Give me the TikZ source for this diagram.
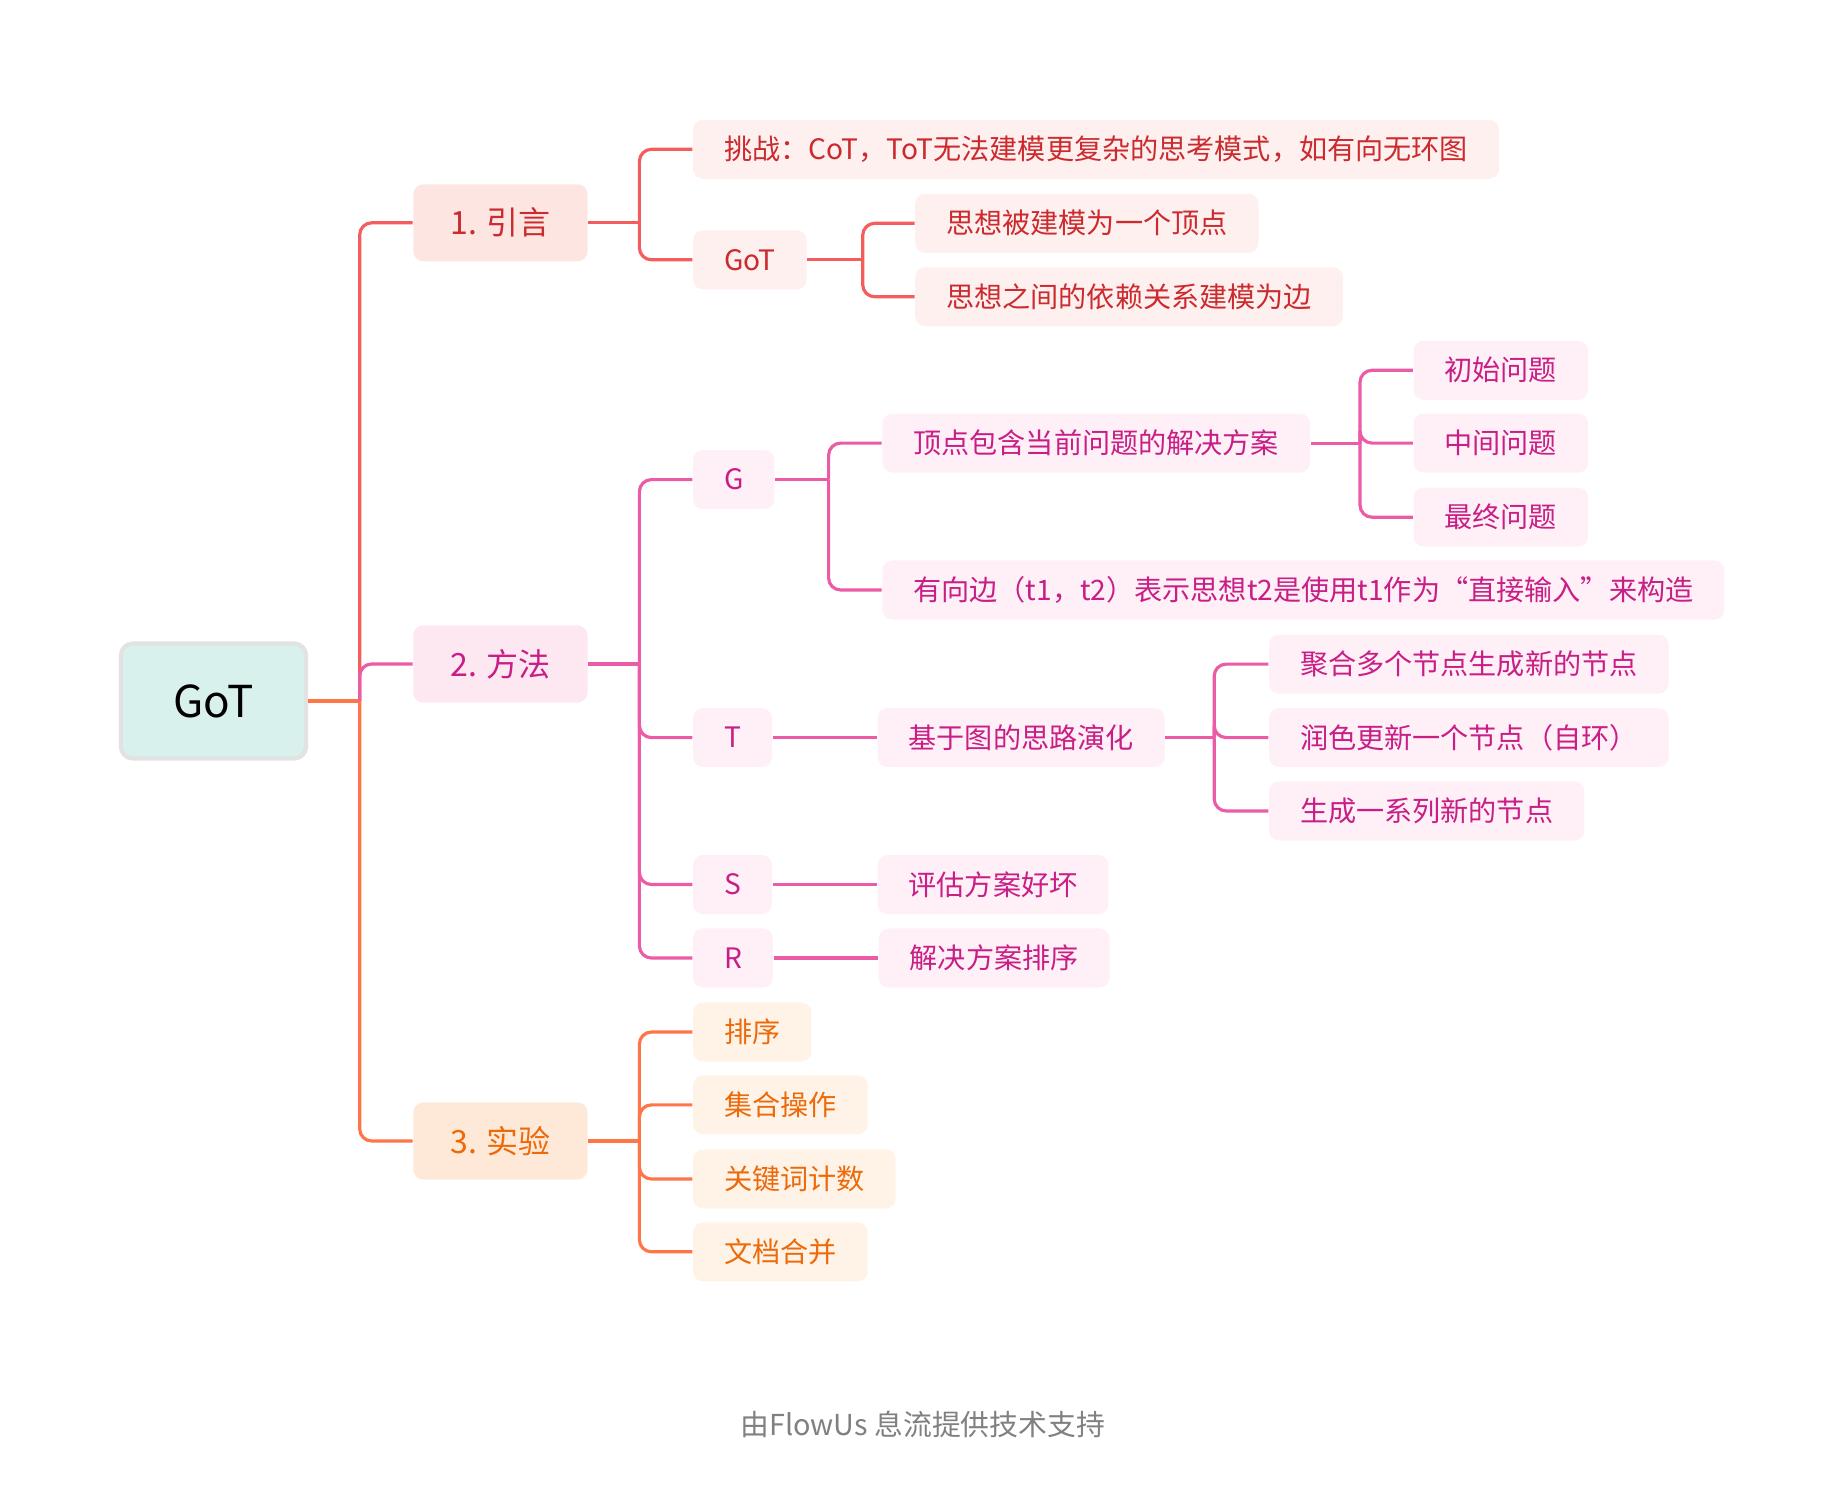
\documentclass[tikz,border=0pt]{standalone}
\usepackage{fontspec}
\setmainfont{Noto Sans CJK SC}

\definecolor{redline}{HTML}{F35D5D}
\definecolor{redtext}{HTML}{CB2A2F}
\definecolor{redfillA}{HTML}{FDE5E2}
\definecolor{redfillB}{HTML}{FEF0EE}
\definecolor{pinkline}{HTML}{EB5BA6}
\definecolor{pinktext}{HTML}{C81E86}
\definecolor{pinkfillA}{HTML}{FDE7F1}
\definecolor{pinkfillB}{HTML}{FEF0F6}
\definecolor{orangeline}{HTML}{FF7548}
\definecolor{orangetext}{HTML}{EC6A0A}
\definecolor{orangefillA}{HTML}{FEE9D9}
\definecolor{orangefillB}{HTML}{FFF3E8}
\definecolor{rootfill}{HTML}{D9F1EC}
\definecolor{rootborder}{HTML}{E2E2E2}

\tikzset{
    box/.style={anchor=west, rounded corners=0.1cm, inner xsep=0.31cm, inner ysep=0pt,
        minimum height=0.59cm, font=\fontsize{8}{10}\selectfont},
    topbox/.style={box, inner xsep=0.37cm, minimum height=0.77cm, font=\fontsize{9.1}{11}\selectfont},
    redtop/.style={topbox, fill=redfillA, text=redtext},
    redbox/.style={box, fill=redfillB, text=redtext},
    pinktop/.style={topbox, fill=pinkfillA, text=pinktext},
    pinkbox/.style={box, fill=pinkfillB, text=pinktext},
    orangetop/.style={topbox, fill=orangefillA, text=orangetext},
    orangebox/.style={box, fill=orangefillB, text=orangetext},
    link/.style={line width=0.9pt, rounded corners=0.12cm},
}

\begin{document}
\begin{tikzpicture}[x=0.01cm, y=-0.01cm]
    \useasboundingbox (0,0) rectangle (1843,1507);

    \node[fill=rootfill, draw=rootborder, line width=1.2pt, rounded corners=0.12cm,
        minimum width=1.85cm, minimum height=1.15cm, font=\fontsize{12.5}{15}\selectfont] (root) at (213.5,701) {GoT};

    \node[redtop] (intro) at (412.6,222.8) {1. 引言};
    \node[pinktop] (method) at (412.6,664) {2. 方法};
    \node[orangetop] (exper) at (412.6,1141) {3. 实验};

    % 1. intro
    \node[redbox] (challenge) at (692.3,149.3) {挑战：CoT，ToT无法建模更复杂的思考模式，如有向无环图};
    \node[redbox] (got) at (692.3,259.8) {GoT};
    \node[redbox] (vertex) at (914.5,223.3) {思想被建模为一个顶点};
    \node[redbox] (edge) at (914.5,296.8) {思想之间的依赖关系建模为边};

    % 2. method
    \node[pinkbox] (G) at (692.3,479.6) {G};
    \node[pinkbox] (T) at (692.3,737.6) {T};
    \node[pinkbox] (S) at (692.3,884.5) {S};
    \node[pinkbox] (R) at (692.3,958) {R};
    \node[pinkbox] (solution) at (881.6,443.1) {顶点包含当前问题的解决方案};
    \node[pinkbox] (directed) at (881.6,590) {有向边（t1，t2）表示思想t2是使用t1作为“直接输入”来构造};
    \node[pinkbox] (initial) at (1412.8,370.3) {初始问题};
    \node[pinkbox] (middle) at (1412.8,443.1) {中间问题};
    \node[pinkbox] (final) at (1412.8,517.2) {最终问题};
    \node[pinkbox] (evolve) at (876.9,737.6) {基于图的思路演化};
    \node[pinkbox] (aggregate) at (1268.3,664.1) {聚合多个节点生成新的节点};
    \node[pinkbox, minimum width=3.97cm] (refine) at (1268.3,737.6) {润色更新一个节点（自环）};
    \node[pinkbox] (generate) at (1268.3,811) {生成一系列新的节点};
    \node[pinkbox] (score) at (876.9,884.5) {评估方案好坏};
    \node[pinkbox] (rank) at (878,958) {解决方案排序};

    % 3. experiments
    \node[orangebox] (sorting) at (692.3,1032) {排序};
    \node[orangebox] (setop) at (692.3,1104.9) {集合操作};
    \node[orangebox] (keyword) at (692.3,1179) {关键词计数};
    \node[orangebox] (merge) at (692.3,1251.8) {文档合并};

    \node[text=gray, font=\fontsize{8.2}{10}\selectfont] (credit) at (922.7,1424.6) {由FlowUs 息流提供技术支持};

    \coordinate (j0) at (359.7,701);
    \coordinate (j1) at (639.4,222.8);
    \coordinate (j2) at (639.4,664);
    \coordinate (j3) at (639.4,1141);
    \coordinate (jgot) at (862.7,259.8);
    \coordinate (jG) at (828.6,479.6);
    \coordinate (jsol) at (1360,443.1);
    \coordinate (jevo) at (1214.2,737.6);

    \draw[link, orangeline] (root.east) -- (j0);
    \draw[link, redline] (j0) |- (intro.west);
    \draw[link, pinkline] (j0) |- (method.west);
    \draw[link, orangeline] (j0) |- (exper.west);

    \draw[link, redline] (intro.east) -- (j1);
    \foreach \n in {challenge, got}
        \draw[link, redline] (j1) |- (\n.west);
    \draw[link, redline] (got.east) -- (jgot);
    \foreach \n in {vertex, edge}
        \draw[link, redline] (jgot) |- (\n.west);

    \draw[link, pinkline] (method.east) -- (j2);
    \foreach \n in {G, T, S, R}
        \draw[link, pinkline] (j2) |- (\n.west);
    \draw[link, pinkline] (G.east) -- (jG);
    \foreach \n in {solution, directed}
        \draw[link, pinkline] (jG) |- (\n.west);
    \draw[link, pinkline] (solution.east) -- (jsol);
    \foreach \n in {initial, middle, final}
        \draw[link, pinkline] (jsol) |- (\n.west);
    \draw[link, pinkline] (T.east) -- (evolve.west);
    \draw[link, pinkline] (evolve.east) -- (jevo);
    \foreach \n in {aggregate, refine, generate}
        \draw[link, pinkline] (jevo) |- (\n.west);
    \draw[link, pinkline] (S.east) -- (score.west);
    \draw[link, pinkline] (R.east) -- (rank.west);

    \draw[link, orangeline] (exper.east) -- (j3);
    \foreach \n in {sorting, setop, keyword, merge}
        \draw[link, orangeline] (j3) |- (\n.west);
\end{tikzpicture}
\end{document}
